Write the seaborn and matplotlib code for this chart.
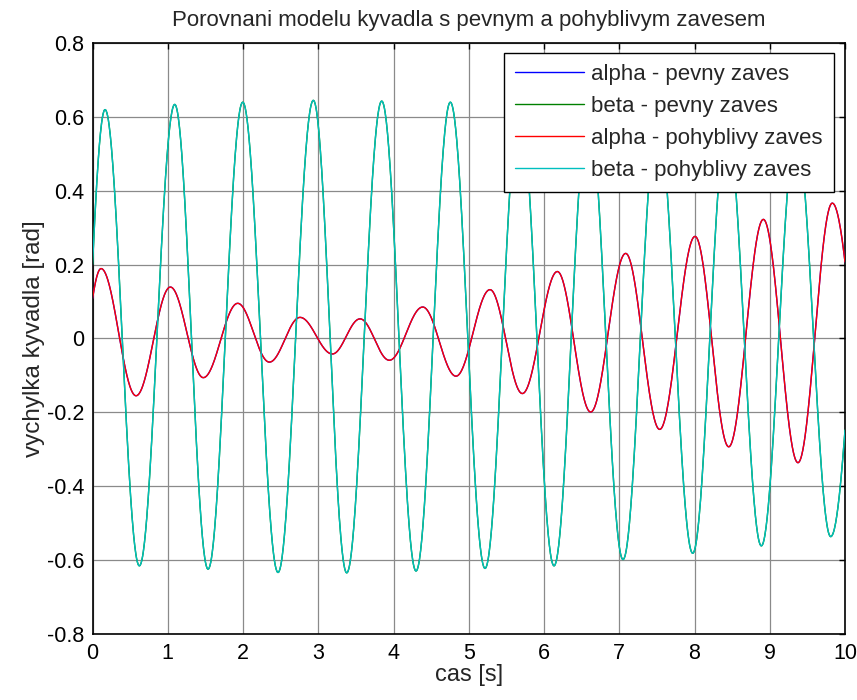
import numpy as np
import pandas as pd
import matplotlib
matplotlib.use("Agg")
import matplotlib.pyplot as plt
import seaborn as sns

# Extrema of the pendulum swing (time [s], angle [rad]); first/last entries are the
# values at the start and end of the simulation window.
alpha_t = [0.0, 0.113, 0.578, 1.034, 1.472, 1.929, 2.35, 2.757, 3.187, 3.555, 3.944,
           4.388, 4.83, 5.282, 5.712, 6.177, 6.62, 7.085, 7.537, 8.007, 8.455, 8.915,
           9.375, 9.831, 10.0]
alpha_v = [0.108, 0.189, -0.155, 0.139, -0.106, 0.095, -0.064, 0.057, -0.042, 0.053,
           -0.059, 0.085, -0.102, 0.132, -0.149, 0.181, -0.199, 0.23, -0.246, 0.276,
           -0.293, 0.322, -0.336, 0.366, 0.207]

beta_t = [0.0, 0.166, 0.622, 1.092, 1.535, 1.996, 2.465, 2.934, 3.378, 3.843, 4.299,
          4.755, 5.216, 5.675, 6.133, 6.59, 7.05, 7.51, 7.976, 8.43, 8.888, 9.35,
          9.81, 10.0]
beta_v = [0.20, 0.619, -0.615, 0.633, -0.624, 0.639, -0.633, 0.644, -0.634, 0.642,
          -0.629, 0.639, -0.622, 0.63, -0.615, 0.62, -0.598, 0.60, -0.581, 0.58,
          -0.561, 0.56, -0.536, -0.248]

series_labels = ["alpha - pevny zaves", "beta - pevny zaves",
                 "alpha - pohyblivy zaves", "beta - pohyblivy zaves"]
x_ticks = [0, 1, 2, 3, 4, 5, 6, 7, 8, 9, 10]
y_ticks = [-0.8, -0.6, -0.4, -0.2, 0, 0.2, 0.4, 0.6, 0.8]


def swing(knot_t, knot_v, t):
    """Trace the oscillation through its turning points with cosine arcs."""
    kt = np.asarray(knot_t, float)
    kv = np.asarray(knot_v, float)
    n = len(kt)
    out = np.zeros_like(t)
    for i in range(n - 1):
        a, b = kt[i], kt[i + 1]
        va, vb = kv[i], kv[i + 1]
        m = (t >= a) & (t <= b)
        s = (t[m] - a) / (b - a)
        if 0 < i < n - 2:
            out[m] = va + (vb - va) * (1 - np.cos(np.pi * s)) / 2
        elif i == 0:
            mid = (kv[1] + kv[2]) / 2
            phi = np.arccos(np.clip((va - mid) / (vb - mid), -1, 1))
            out[m] = mid + (vb - mid) * np.cos(phi * (1 - s))
        else:
            mid = (kv[-2] + kv[-3]) / 2
            phi = np.arccos(np.clip((vb - mid) / (va - mid), -1, 1))
            out[m] = mid + (va - mid) * np.cos(phi * s)
    return out


time = np.linspace(0, 10, 2001)
alpha = swing(alpha_t, alpha_v, time)
beta = swing(beta_t, beta_v, time)

frames = []
for lab, vals in zip(series_labels, [alpha, beta, alpha, beta]):
    frames.append(pd.DataFrame({"cas": time, "uhel": vals, "serie": lab}))
df = pd.concat(frames, ignore_index=True)

sns.set_style("white")
plt.rcParams["font.family"] = ["Liberation Sans", "DejaVu Sans"]

fig = plt.figure(figsize=(8.57, 7.0), dpi=100)
ax = fig.add_axes([0.108, 0.094, 0.878, 0.845])

palette = {series_labels[0]: (0, 0, 1), series_labels[1]: (0, 0.5, 0),
           series_labels[2]: (1, 0, 0), series_labels[3]: (0, 0.75, 0.75)}
sns.lineplot(data=df, x="cas", y="uhel", hue="serie", hue_order=series_labels,
             palette=palette, linewidth=1.0, estimator=None, sort=False, ax=ax,
             zorder=3)

ax.set_xlim(0, 10)
ax.set_ylim(-0.8, 0.8)
ax.set_xticks(x_ticks)
ax.set_yticks(y_ticks)
ax.set_xticklabels([str(v) for v in x_ticks])
ax.set_yticklabels([f"{v:g}" for v in y_ticks])
ax.grid(True, color="#8a8a8a", linewidth=0.9, linestyle="-", zorder=0)
ax.tick_params(direction="in", length=4, width=1, top=True, right=True,
               labelsize=15.5, pad=6, colors="black")
for sp in ax.spines.values():
    sp.set_visible(True)
    sp.set_color("black")
    sp.set_linewidth(1.2)

ax.set_title("Porovnani modelu kyvadla s pevnym a pohyblivym zavesem",
             fontsize=16, pad=12)
ax.set_xlabel("cas [s]", fontsize=17, labelpad=0.5)
ax.set_ylabel("vychylka kyvadla [rad]", fontsize=17.5, labelpad=1)

leg = ax.legend(loc="upper right", bbox_to_anchor=(0.985, 0.983),
                borderaxespad=0, fontsize=16, frameon=True, fancybox=False,
                framealpha=1, edgecolor="black", handlelength=3.1,
                handletextpad=0.32, labelspacing=0.5, borderpad=0.5)
leg.get_frame().set_linewidth(1.0)
for line in leg.get_lines():
    line.set_linewidth(1.0)

fig.savefig("out.png", dpi=100)
